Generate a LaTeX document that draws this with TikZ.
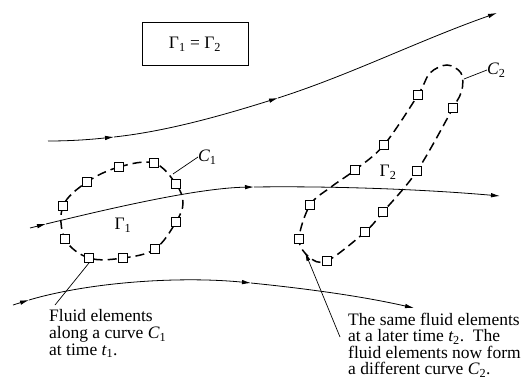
\documentclass[tikz,border=0pt]{standalone}
\usepackage{fontspec}
\setmainfont{Liberation Serif}
\usetikzlibrary{arrows.meta}
\tikzset{
  stream/.style={line width=0.8pt,-{Latex[length=9pt,width=4.5pt]}},
  fel/.style={draw,fill=white,minimum size=9pt,inner sep=0pt,line width=0.9pt},
  curveline/.style={line width=1.5pt,dash pattern=on 9pt off 5pt},
  lbl/.style={font=\fontsize{17.5}{16.6}\selectfont,inner sep=0pt},
  leader/.style={line width=0.7pt},
}
\begin{document}
\begin{tikzpicture}[x=1pt,y=-1pt]
\useasboundingbox (0,0) rectangle (522,385);
% box
\node[draw,line width=1pt,minimum width=106pt,minimum height=43pt,lbl] (eq) at (195,44.5) {Γ\textsubscript{1} = Γ\textsubscript{2}};
% streamline points
\coordinate (a0) at (48,141); \coordinate (a1) at (114,137); \coordinate (a2) at (278,98); \coordinate (a3) at (497,13);
\coordinate (b0) at (30,228); \coordinate (b1) at (46,224); \coordinate (b2) at (254,187); \coordinate (b3) at (500,196);
\coordinate (d0) at (13,305); \coordinate (d1) at (29,300); \coordinate (d2) at (251,283); \coordinate (d3) at (414,308);
% streamlines
\draw[stream] (a0) .. controls (75,141) and (95,139) .. (a1);
\draw[stream] (a1) .. controls (170,131) and (230,113) .. (a2);
\draw[stream] (a2) .. controls (350,75) and (420,40) .. (a3);
\draw[stream] (b0) -- (b1);
\draw[stream] (b1) .. controls (120,206) and (200,188) .. (b2);
\draw[stream] (b2) .. controls (330,186) and (420,189) .. (b3);
\draw[stream] (d0) -- (d1);
\draw[stream] (d1) .. controls (90,282) and (180,276) .. (d2);
\draw[stream] (d2) .. controls (320,290) and (370,298) .. (d3);
% curve C1
\draw[curveline] plot[smooth cycle,tension=0.6] coordinates {(87,182) (119,167) (154,163) (176,184) (183,203) (176,222) (155,249) (123,258) (89,258) (65,239) (63,206)};
\foreach \p/\n in {(87,182)/a,(119,167)/b,(154,163)/c,(176,184)/d,(176,222)/e,(155,249)/f,(123,258)/g,(89,258)/h,(65,239)/i,(63,206)/j}
  \node[fel] (p\n) at \p {};
% curve C2
\draw[curveline] plot[smooth cycle,tension=0.55] coordinates {(299,239) (310,205) (331,187) (355,170) (384,145) (418,95) (430,73) (447,65) (461,73) (462,90) (453,108) (417,171) (383,212) (365,232) (327,261) (309,257)};
\foreach \p/\n in {(418,95)/a,(453,108)/b,(384,145)/c,(355,170)/d,(417,171)/e,(310,205)/f,(383,212)/g,(299,239)/h,(365,232)/i,(327,261)/j}
  \node[fel] (q\n) at \p {};
% labels
\node[lbl] (g1) at (123,225) {Γ\textsubscript{1}};
\node[lbl] (g2) at (388,172) {Γ\textsubscript{2}};
\node[lbl,anchor=west] (c1) at (198,157) {\itshape C\textsubscript{\upshape 1}};
\node[lbl,anchor=west] (c2) at (487,70) {\itshape C\textsubscript{\upshape 2}};
\coordinate (c1foot) at (173,174);
\coordinate (c2foot) at (464,79);
\draw[leader] (c1foot) -- (c1.west);
\draw[leader] (c2foot) -- (c2.west);
% texts
\node[lbl,anchor=north west,align=left] (t1) at (49,309.5) {Fluid elements\\along a curve {\itshape C}\textsubscript{1}\\at time {\itshape t}\textsubscript{1}.};
\node[lbl,anchor=north west,align=left] (t2) at (348,312.5) {The same fluid elements\\at a later time {\itshape t}\textsubscript{2}.\ \ The\\fluid elements now form\\a different curve {\itshape C}\textsubscript{2}.};
\coordinate (l1end) at (55,305);
\coordinate (l2end) at (340,337);
\coordinate (l2tip) at (305,252);
\draw[leader] (ph.south) -- (l1end);
\draw[leader,-{Latex[length=9pt,width=4pt]}] (l2end) -- (l2tip);
\end{tikzpicture}
\end{document}
